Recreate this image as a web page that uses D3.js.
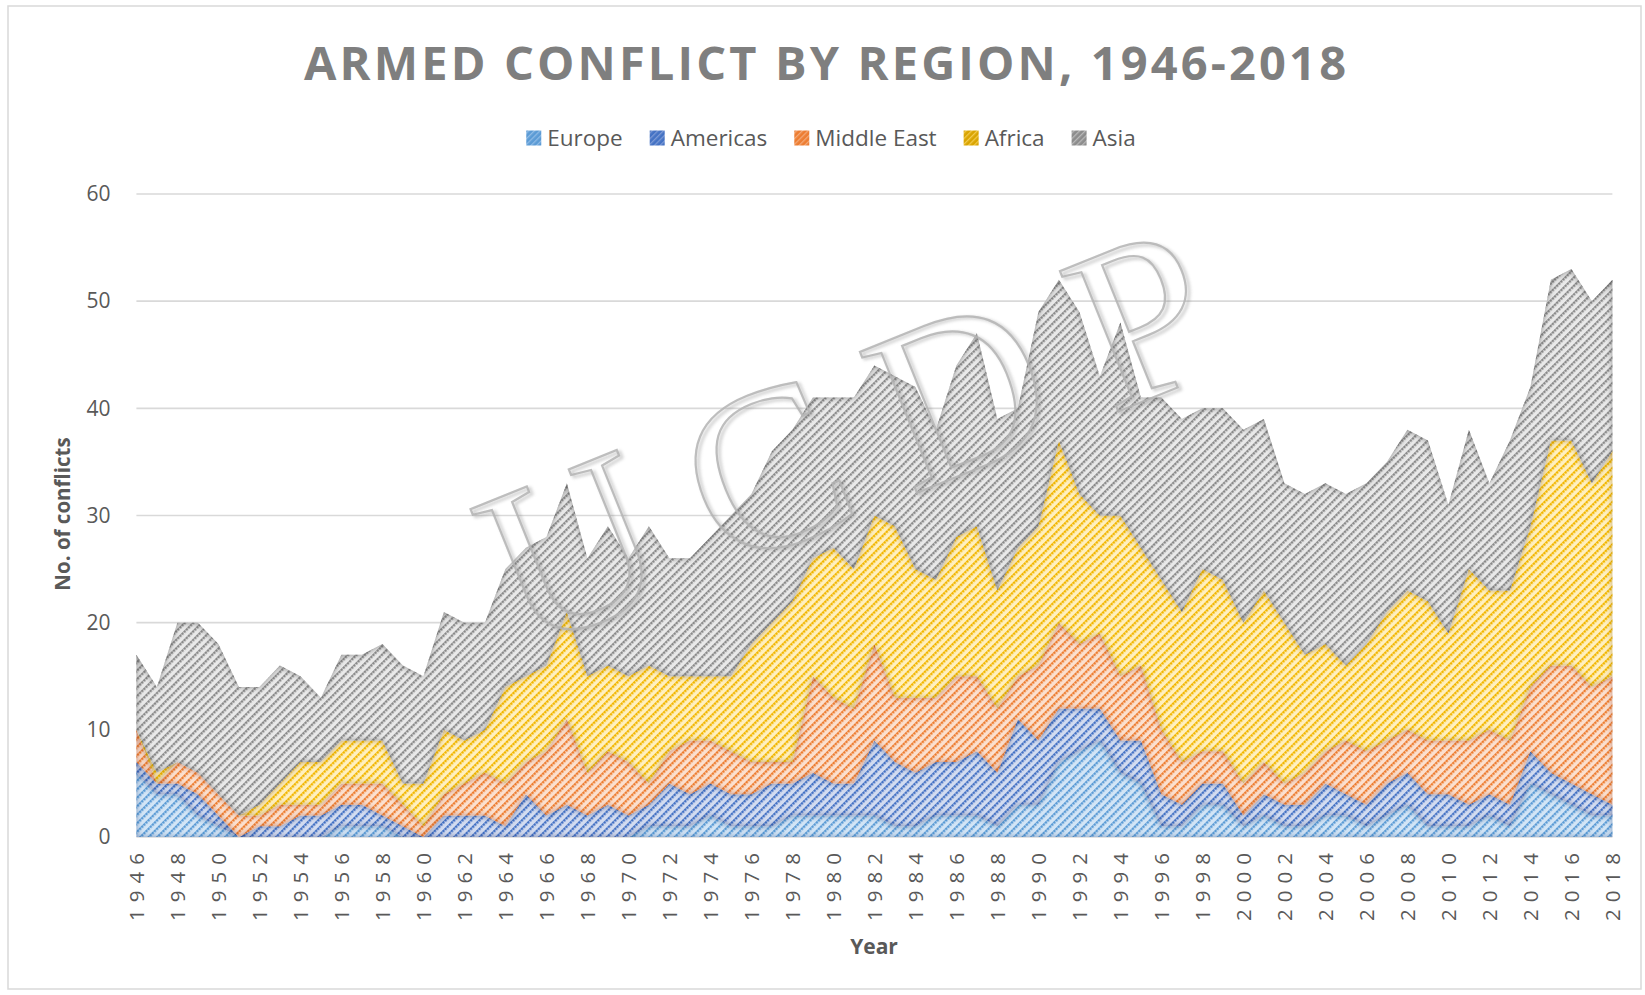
<!DOCTYPE html>
<html><head><meta charset="utf-8">
<script src="https://cdn.jsdelivr.net/npm/d3@7"></script>
<style>
html,body{margin:0;padding:0;background:#fff;}
svg{display:block;}
text{font-family:"Open Sans","Noto Sans",sans-serif;}
</style></head><body>
<svg id="chart" width="1645" height="995"></svg>
<script>
// ---------------- DATA ----------------
const years = [1946,1947,1948,1949,1950,1951,1952,1953,1954,1955,1956,1957,1958,1959,1960,1961,1962,1963,1964,1965,1966,1967,1968,1969,1970,1971,1972,1973,1974,1975,1976,1977,1978,1979,1980,1981,1982,1983,1984,1985,1986,1987,1988,1989,1990,1991,1992,1993,1994,1995,1996,1997,1998,1999,2000,2001,2002,2003,2004,2005,2006,2007,2008,2009,2010,2011,2012,2013,2014,2015,2016,2017,2018];
const europe     = [6,4,4,2,1,0,0,0,0,0,1,1,1,0,0,0,0,0,0,0,0,0,0,0,0,1,1,1,2,1,1,1,2,2,2,2,2,1,1,2,2,2,1,3,3,7,8,9,6,5,1,1,3,3,1,2,1,1,2,2,1,2,3,1,1,1,2,1,5,4,3,2,2];
const americas   = [1,1,1,2,1,0,1,1,2,2,2,2,1,1,0,2,2,2,1,4,2,3,2,3,2,2,4,3,3,3,3,4,3,4,3,3,7,6,5,5,5,6,5,8,6,5,4,3,3,4,3,2,2,2,1,2,2,2,3,2,2,3,3,3,3,2,2,2,3,2,2,2,1];
const middleEast = [3,0,2,2,2,2,1,2,1,1,2,2,3,2,1,2,3,4,4,3,6,8,4,5,5,2,3,5,4,4,3,2,2,9,8,7,9,6,7,6,8,7,6,4,7,8,6,7,6,7,6,4,3,3,3,3,2,3,3,5,5,4,4,5,5,6,6,6,6,10,11,10,12];
const africa     = [0,1,0,0,0,0,1,2,4,4,4,4,4,2,4,6,4,4,9,8,8,10,9,8,8,11,7,6,6,7,11,13,15,11,14,13,12,16,12,11,13,14,11,12,13,17,14,11,15,11,14,14,17,16,15,16,15,11,10,7,10,12,13,13,10,16,13,14,15,21,21,19,21];
const asia       = [7,8,13,14,14,12,11,11,8,6,8,8,9,11,10,11,11,10,11,12,12,12,11,13,11,13,11,11,13,15,14,16,16,15,14,16,14,14,17,14,16,18,16,13,20,15,17,13,18,14,17,18,15,16,18,16,13,15,15,16,15,14,15,15,12,13,10,14,13,15,16,17,16];

const seriesNames = ["Europe","Americas","Middle East","Africa","Asia"];
const xTickYears = [1946,1948,1950,1952,1954,1956,1958,1960,1962,1964,1966,1968,1970,1972,1974,1976,1978,1980,1982,1984,1986,1988,1990,1992,1994,1996,1998,2000,2002,2004,2006,2008,2010,2012,2014,2016,2018];
const yTicks = [0,10,20,30,40,50,60];
const titleText = "ARMED CONFLICT BY REGION, 1946-2018";
const yTitle = "No. of conflicts";
const xTitle = "Year";
const watermark = "UCDP";

// ---------------- STYLE ----------------
const styles = {
  "Europe":      {bg:"#d3e5f6", stripe:"#5b9bd5", edge:"#2e6aa8", legendBg:"#5b9bd5", legendStripe:"#8fbbe6"},
  "Americas":    {bg:"#d3dcf0", stripe:"#4472c4", edge:"#22448a", legendBg:"#4472c4", legendStripe:"#7d9ad6"},
  "Middle East": {bg:"#fbe0cf", stripe:"#ed7d31", edge:"#b4521a", legendBg:"#ed7d31", legendStripe:"#f3a978"},
  "Africa":      {bg:"#fff0c0", stripe:"#f2b600", edge:"#b08400", legendBg:"#d9a400", legendStripe:"#f2c94c"},
  "Asia":        {bg:"#e9e9e9", stripe:"#8a8a8a", edge:"#505050", legendBg:"#8c8c8c", legendStripe:"#b8b8b8"}
};

const table = years.map((yr,i)=>({year:yr,"Europe":europe[i],"Americas":americas[i],"Middle East":middleEast[i],"Africa":africa[i],"Asia":asia[i]}));

const svg = d3.select("#chart");
const plot = {left:136.4, right:1612.4, top:194, bottom:837};

const x = d3.scaleLinear().domain([1946,2018]).range([plot.left, plot.right]);
const y = d3.scaleLinear().domain([0,60]).range([plot.bottom, plot.top]);

const defs = svg.append("defs");
seriesNames.forEach((s,i)=>{
  const st = styles[s];
  const p = defs.append("pattern").attr("id","pat"+i).attr("patternUnits","userSpaceOnUse")
    .attr("width",6).attr("height",6).attr("patternTransform","rotate(45)");
  p.append("rect").attr("width",6).attr("height",6).attr("fill",st.bg);
  p.append("rect").attr("x",0).attr("y",0).attr("width",2.4).attr("height",2).attr("fill",st.stripe);
  p.append("rect").attr("x",0).attr("y",3).attr("width",2.4).attr("height",2).attr("fill",st.stripe);
  p.append("rect").attr("x",0).attr("y",2).attr("width",1.5).attr("height",1).attr("fill",st.stripe).attr("opacity",0.6);
  p.append("rect").attr("x",0).attr("y",5).attr("width",1.5).attr("height",1).attr("fill",st.stripe).attr("opacity",0.6);

  const lp = defs.append("pattern").attr("id","lpat"+i).attr("patternUnits","userSpaceOnUse")
    .attr("width",4).attr("height",4).attr("patternTransform","rotate(45)");
  lp.append("rect").attr("width",4).attr("height",4).attr("fill",st.legendBg);
  lp.append("rect").attr("width",1.3).attr("height",4).attr("fill",st.legendStripe);

  const f = defs.append("filter").attr("id","glow"+i).attr("x","-2%").attr("y","-5%").attr("width","104%").attr("height","110%");
  f.append("feGaussianBlur").attr("in","SourceAlpha").attr("stdDeviation",3).attr("result","b");
  f.append("feComposite").attr("in","SourceAlpha").attr("in2","b").attr("operator","out").attr("result","edge");
  f.append("feFlood").attr("flood-color",st.edge).attr("flood-opacity",0.9);
  f.append("feComposite").attr("in2","edge").attr("operator","in").attr("result","sh");
  const m = f.append("feMerge");
  m.append("feMergeNode").attr("in","SourceGraphic");
  m.append("feMergeNode").attr("in","sh");
});
const wf = defs.append("filter").attr("id","wmshadow").attr("x","-10%").attr("y","-10%").attr("width","120%").attr("height","120%");
wf.append("feGaussianBlur").attr("stdDeviation",1.6);

// border
svg.append("rect").attr("x",8).attr("y",6).attr("width",1633).attr("height",983)
  .attr("fill","#fff").attr("stroke","#d9d9d9").attr("stroke-width",1.5);

// gridlines
svg.append("g").selectAll("line").data(yTicks).join("line")
  .attr("x1",plot.left).attr("x2",plot.right)
  .attr("y1",d=>y(d)).attr("y2",d=>y(d))
  .attr("stroke","#d9d9d9").attr("stroke-width",1.6);

// stacked areas
const stack = d3.stack().keys(seriesNames);
const layers = stack(table);
const area = d3.area().x(d=>x(d.data.year)).y0(d=>y(d[0])).y1(d=>y(d[1]));
svg.append("g").selectAll("path").data(layers).join("path")
  .attr("d",area)
  .attr("fill",(d,i)=>"url(#pat"+i+")")
  .attr("filter",(d,i)=>"url(#glow"+i+")");

// watermark
const wmG = svg.append("g").attr("transform","translate(848,438) rotate(-22)");
wmG.append("text").text(watermark)
  .attr("x",24+2).attr("y",2).attr("dy","0.33em")
  .attr("text-anchor","middle")
  .style("font-family","'Liberation Serif','DejaVu Serif',serif")
  .style("font-size","232px").style("letter-spacing","48px")
  .attr("fill","none").attr("stroke","#7a7a7a").attr("stroke-width",3).attr("opacity",0.35)
  .attr("filter","url(#wmshadow)");
wmG.append("text").text(watermark)
  .attr("x",24).attr("y",0).attr("dy","0.33em")
  .attr("text-anchor","middle")
  .style("font-family","'Liberation Serif','DejaVu Serif',serif")
  .style("font-size","232px").style("letter-spacing","48px")
  .attr("fill","none").attr("stroke","#b4b4b4").attr("stroke-width",2.2).attr("opacity",0.85);

// y axis
const yAxis = svg.append("g").attr("transform","translate("+plot.left+",0)")
  .call(d3.axisLeft(y).tickValues(yTicks).tickSize(0).tickPadding(26));
yAxis.select(".domain").remove();
yAxis.selectAll("text").style("font-size","21px").style("font-family","'Open Sans',sans-serif").attr("fill","#595959");

// x axis
const xAxis = svg.append("g").attr("transform","translate(0,"+plot.bottom+")")
  .call(d3.axisBottom(x).tickValues(xTickYears).tickFormat(d3.format("d")).tickSize(0));
xAxis.select(".domain").remove();
xAxis.selectAll("text")
  .attr("transform","rotate(-90)")
  .attr("x",-16).attr("y",0).attr("dy","0.35em")
  .style("text-anchor","end")
  .style("font-size","20.5px").style("font-family","'Open Sans',sans-serif")
  .attr("textLength",68).attr("lengthAdjust","spacing")
  .attr("fill","#595959");

// title
svg.append("text").text(titleText)
  .attr("x",825).attr("y",80).attr("text-anchor","middle")
  .attr("textLength",1042).attr("lengthAdjust","spacing")
  .style("font-size","47px").style("font-weight","700").attr("fill","#7f7f7f");

// axis titles
svg.append("text").text(yTitle)
  .attr("transform","translate(70,514) rotate(-90)").attr("text-anchor","middle")
  .style("font-size","20.5px").style("font-weight","700").attr("fill","#595959");
svg.append("text").text(xTitle)
  .attr("x",874).attr("y",954).attr("text-anchor","middle")
  .style("font-size","21px").style("font-weight","700").attr("fill","#595959");

// legend
const lg = svg.append("g");
const items = lg.selectAll("g").data(seriesNames).join("g");
items.append("rect").attr("width",15).attr("height",15).attr("y",-7.5).attr("fill",(d,i)=>"url(#lpat"+i+")");
items.append("text").text(d=>d).attr("x",21).attr("dy","0.35em")
  .style("font-size","22.5px").attr("fill","#595959");
let cx = 0; const offs = [];
items.each(function(d){ offs.push(cx); const w = d3.select(this).select("text").node().getComputedTextLength(); cx += 21 + w + 27; });
const total = cx - 27;
const startX = 831 - total/2;
items.attr("transform",(d,i)=>"translate("+(startX+offs[i])+",138)");
</script>
</body></html>
